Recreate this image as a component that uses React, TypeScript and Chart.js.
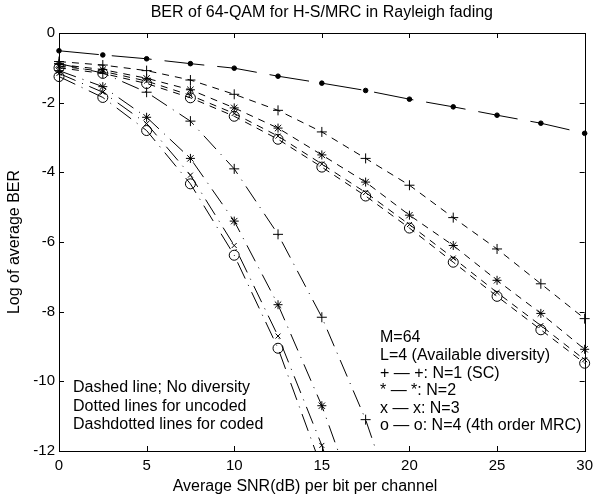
import React, { useEffect, useRef } from "react";
import { Chart, registerables } from "chart.js";

Chart.register(...registerables);

const FONT = "'Liberation Sans', Arial, sans-serif";

const titleText = "BER of 64-QAM for H-S/MRC in Rayleigh fading";
const xTitle = "Average SNR(dB) per bit per channel";
const yTitle = "Log of average BER";

const snr = [0, 2.5, 5, 7.5, 10, 12.5, 15, 17.5, 20, 22.5, 25, 27.5, 30];
const xTicks = [0, 5, 10, 15, 20, 25, 30];
const yTicks = [0, -2, -4, -6, -8, -10, -12];

// Dashed line: no diversity
const noDiversity = [-0.51, -0.63, -0.74, -0.88, -1.01, -1.24, -1.44, -1.65, -1.9, -2.12, -2.36, -2.59, -2.88];

// Dotted lines: uncoded
const uncodedN1 = [-0.82, -0.92, -1.08, -1.35, -1.76, -2.22, -2.84, -3.6, -4.37, -5.3, -6.2, -7.2, -8.2];
const uncodedN2 = [-0.9, -1.05, -1.3, -1.63, -2.15, -2.73, -3.5, -4.28, -5.23, -6.1, -7.1, -8.05, -9.08];
const uncodedN3 = [-0.95, -1.1, -1.38, -1.79, -2.31, -2.96, -3.76, -4.58, -5.5, -6.46, -7.45, -8.4, -9.38];
const uncodedN4 = [-1.0, -1.16, -1.45, -1.86, -2.39, -3.05, -3.85, -4.68, -5.6, -6.58, -7.56, -8.52, -9.48];

// Dashdotted lines: coded
const codedSnr = [0, 2.5, 5, 7.5, 10, 12.5, 15, 17.5, 20];
const codedN1 = [-0.88, -1.15, -1.7, -2.53, -3.9, -5.78, -8.16, -11.1, -14.8];
const codedN2 = [-1.08, -1.54, -2.42, -3.6, -5.4, -7.8, -10.7, -14.2];
const codedN3 = [-1.16, -1.7, -2.6, -4.08, -6.1, -8.7, -11.84, -15.5];
const codedN4 = [-1.25, -1.85, -2.8, -4.33, -6.38, -9.05, -12.5];

const leftNotes = ["Dashed line; No diversity", "Dotted lines for uncoded", "Dashdotted lines for coded"];
const rightNotes = [
  "M=64",
  "L=4 (Available diversity)",
  "+ \u2014 +: N=1 (SC)",
  "* \u2014 *: N=2",
  "x \u2014 x: N=3",
  "o \u2014 o: N=4 (4th order MRC)",
];

const toPts = (xs: number[], ys: number[]) => ys.map((y, i) => ({ x: xs[i], y }));

const markerStyles: Record<string, any> = {
  "+": { pointStyle: "cross", pointRadius: 5 },
  "*": { pointStyle: "star", pointRadius: 4.5 },
  x: { pointStyle: "crossRot", pointRadius: 3.5 },
  o: { pointStyle: "circle", pointRadius: 5 },
};

function series(xs: number[], ys: number[], marker: string, dash: number[]) {
  const m = markerStyles[marker];
  return {
    data: toPts(xs, ys),
    borderColor: "#000",
    borderWidth: 1,
    borderDash: dash,
    pointStyle: m.pointStyle,
    pointRadius: m.pointRadius,
    pointBorderColor: "#000",
    pointBackgroundColor: "rgba(0,0,0,0)",
    pointBorderWidth: 1,
    fill: false,
    tension: 0,
    clip: { left: 12, right: 12, top: 0, bottom: 0 },
  };
}

const UNCODED_DASH = [7, 6];
const CODED_DASH = [18, 7, 1, 7];

const decor = {
  id: "decor",
  afterDraw(chart: any) {
    const { ctx, chartArea, scales } = chart;
    const { left, right, top, bottom } = chartArea;
    ctx.save();
    ctx.strokeStyle = "#000";
    ctx.lineWidth = 1;
    ctx.setLineDash([]);
    ctx.strokeRect(Math.round(left) + 0.5, Math.round(top) + 0.5, Math.round(right - left), Math.round(bottom - top));
    const tl = 5;
    ctx.beginPath();
    xTicks.forEach((v) => {
      const px = Math.round(scales.x.getPixelForValue(v)) + 0.5;
      ctx.moveTo(px, bottom);
      ctx.lineTo(px, bottom - tl);
      ctx.moveTo(px, top);
      ctx.lineTo(px, top + tl);
    });
    yTicks.forEach((v) => {
      const py = Math.round(scales.y.getPixelForValue(v)) + 0.5;
      ctx.moveTo(left, py);
      ctx.lineTo(left + tl, py);
      ctx.moveTo(right, py);
      ctx.lineTo(right - tl, py);
    });
    ctx.stroke();

    ctx.fillStyle = "#000";
    ctx.textAlign = "center";
    ctx.textBaseline = "middle";
    ctx.font = `16px ${FONT}`;
    ctx.fillText(titleText, (left + right) / 2, 13);
    ctx.fillText(xTitle, 305, 487);
    ctx.save();
    ctx.translate(15, (top + bottom) / 2);
    ctx.rotate(-Math.PI / 2);
    ctx.fillText(yTitle, 0, 0);
    ctx.restore();

    ctx.textAlign = "left";
    leftNotes.forEach((t, i) => ctx.fillText(t, 73, 388 + i * 18.5));
    rightNotes.forEach((t, i) => ctx.fillText(t, 380, 338 + i * 17.6));
    ctx.restore();
  },
};

export default function App() {
  const ref = useRef<HTMLCanvasElement>(null);
  useEffect(() => {
    if (!ref.current) return;
    const chart = new Chart(ref.current, {
      type: "line",
      data: {
        datasets: [
          {
            ...series(snr, noDiversity, "o", [40, 13]),
            pointRadius: 2.3,
            pointBackgroundColor: "#000",
          },
          series(snr, uncodedN1, "+", UNCODED_DASH),
          series(snr, uncodedN2, "*", UNCODED_DASH),
          series(snr, uncodedN3, "x", UNCODED_DASH),
          series(snr, uncodedN4, "o", UNCODED_DASH),
          series(codedSnr, codedN1, "+", CODED_DASH),
          series(codedSnr, codedN2, "*", CODED_DASH),
          series(codedSnr, codedN3, "x", CODED_DASH),
          series(codedSnr, codedN4, "o", CODED_DASH),
        ] as any,
      },
      options: {
        animation: false,
        responsive: false,
        devicePixelRatio: 1,
        layout: { padding: { top: 33, right: 8, left: 0, bottom: 0 } },
        plugins: { legend: { display: false }, tooltip: { enabled: false }, title: { display: false } },
        scales: {
          x: {
            type: "linear",
            min: 0,
            max: 30,
            afterBuildTicks: (s: any) => {
              s.ticks = xTicks.map((v) => ({ value: v }));
            },
            afterFit: (s: any) => {
              s.height = 46;
            },
            grid: { display: false, drawTicks: false },
            border: { display: false },
            ticks: {
              autoSkip: false,
              maxRotation: 0,
              padding: 6,
              color: "#000",
              font: { family: FONT, size: 15 },
              callback: (v: any) => String(v),
            },
          },
          y: {
            type: "linear",
            min: -12,
            max: 0,
            afterBuildTicks: (s: any) => {
              s.ticks = yTicks.map((v) => ({ value: v }));
            },
            afterFit: (s: any) => {
              s.width = 59;
            },
            grid: { display: false, drawTicks: false },
            border: { display: false },
            ticks: {
              autoSkip: false,
              padding: 4,
              color: "#000",
              font: { family: FONT, size: 15 },
              callback: (v: any) => String(v),
            },
          },
        },
      },
      plugins: [decor],
    });
    return () => chart.destroy();
  }, []);
  return (
    <div style={{ position: "absolute", left: 0, top: 0, width: 599, height: 497, background: "#fff" }}>
      <canvas ref={ref} width={599} height={497} style={{ width: 599, height: 497 }} />
    </div>
  );
}
